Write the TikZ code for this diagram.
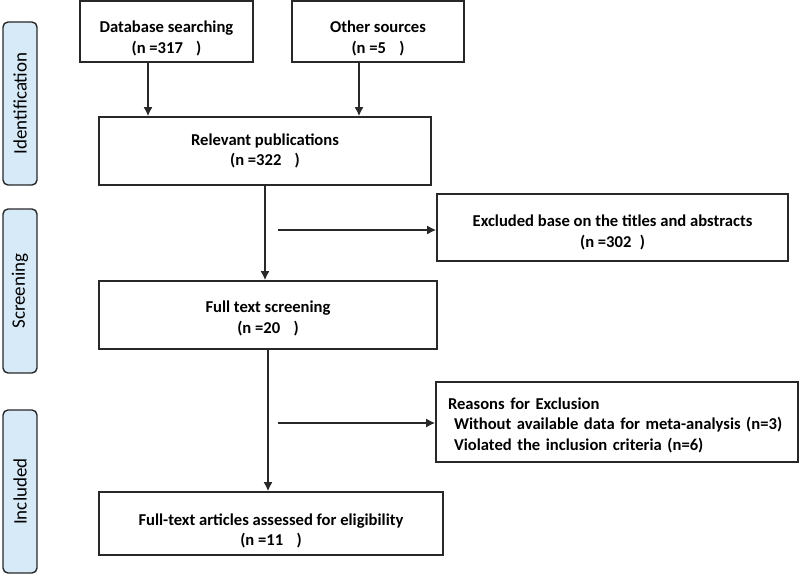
\documentclass[tikz,border=0pt]{standalone}
\usepackage{fontspec}
\setmainfont{Carlito}
\usetikzlibrary{arrows.meta}
\definecolor{sidefill}{RGB}{214,234,248}
\definecolor{boxline}{RGB}{40,40,40}
% lifts the first line so the text sits lower in its box
\newcommand{\lowstrut}[1]{\rule{0pt}{#1}}

\begin{document}
\begin{tikzpicture}[x=1pt, y=-1pt,
                        box/.style={draw=boxline, line width=1.6pt, fill=white, align=center,
                            font=\bfseries\fontsize{16.6}{20.5}\selectfont},
                        phase/.style={draw=boxline, line width=1.4pt, fill=sidefill, rounded corners=5pt,
                            rotate=90, font=\fontsize{19}{22}\selectfont},
                        arr/.style={draw=boxline, line width=1.6pt, -{Latex[length=9pt,width=9pt]}}]

            \useasboundingbox (0,0) rectangle (800,575);

            % phase labels on the left
            \node[phase, minimum width=163pt, minimum height=34pt] (ident) at (20,103.5) {Identification};
            \node[phase, minimum width=164pt, minimum height=34pt] (screen) at (20,291) {Screening};
            \node[phase, minimum width=163pt, minimum height=34pt] (incl) at (20,491.5) {Included};

            % flow boxes
            \node[box, minimum width=173pt, minimum height=61pt] (db) at (166.5,31.5) {\lowstrut{26pt}Database searching\\(n =317\hspace{0.8em})};
            \node[box, minimum width=172pt, minimum height=61pt] (other) at (378,31.5) {\lowstrut{26pt}Other sources\\(n =5\hspace{0.8em})};
            \node[box, minimum width=332pt, minimum height=68pt] (rel) at (265,151) {Relevant publications\\(n =322\hspace{0.8em})};
            \node[box, minimum width=351pt, minimum height=67pt] (excl) at (612.5,227.5) {\lowstrut{22pt}Excluded base on the titles and abstracts\\(n =302\hspace{0.5em})};
            \node[box, minimum width=338pt, minimum height=68pt] (full) at (268,315) {\lowstrut{19pt}Full text screening\\(n =20\hspace{0.8em})};
            \node[box, minimum width=362pt, minimum height=80pt, align=left, text width=338pt, inner xsep=12pt] (reasons) at (617,422)
                {\lowstrut{18pt}Reasons for Exclusion\\
                 \hspace*{6pt}Without available data for meta-analysis (n=3)\\
                 \hspace*{6pt}Violated the inclusion criteria (n=6)};
            \node[box, minimum width=344pt, minimum height=63pt] (final) at (271,523.5) {\lowstrut{27pt}Full-text articles assessed for eligibility\\(n =11\hspace{0.8em})};

            % branch starts
            \coordinate (b1) at (278,230);
            \coordinate (b2) at (278,423);

            % connectors
            \draw[arr] ([xshift=-18.5pt]db.south) -- ([xshift=-18.5pt]db.south |- rel.north);
            \draw[arr] ([xshift=-19pt]other.south) -- ([xshift=-19pt]other.south |- rel.north);
            \draw[arr] (rel.south) -- (rel.south |- full.north);
            \draw[arr] (b1) -- (b1 -| excl.west);
            \draw[arr] (full.south) -- (full.south |- final.north);
            \draw[arr] (b2) -- (b2 -| reasons.west);

        \end{tikzpicture}
\end{document}
